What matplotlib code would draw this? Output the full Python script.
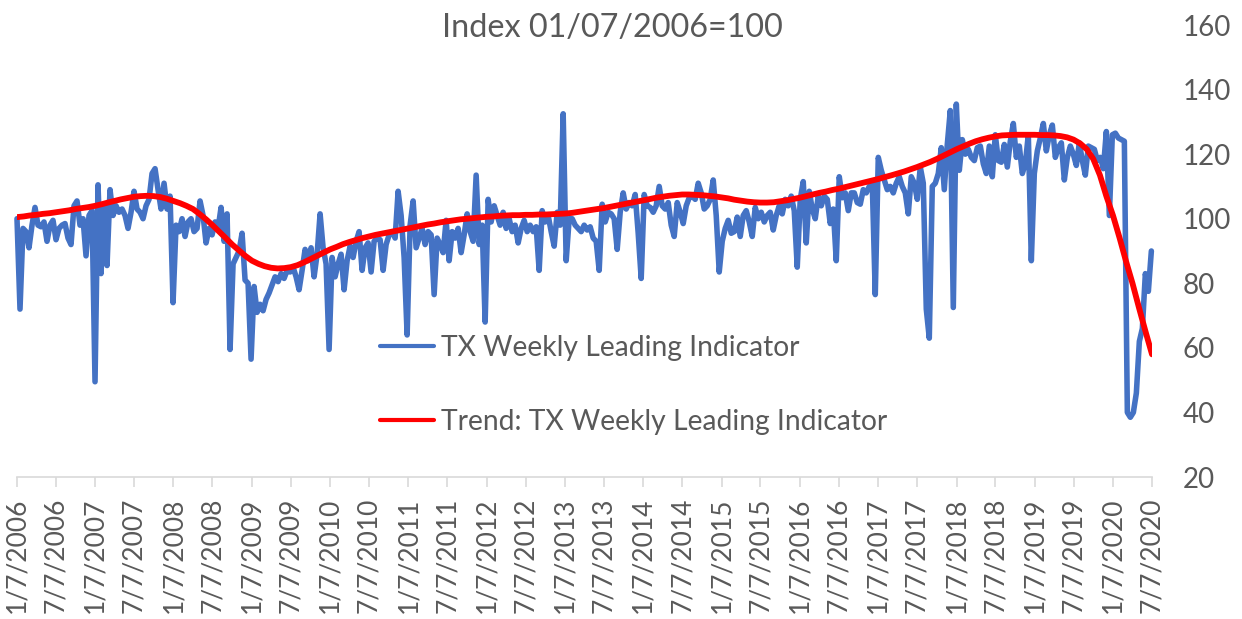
import pandas as pd
import matplotlib
matplotlib.use("Agg")
import matplotlib.pyplot as plt

# TX weekly leading indicator, every other week
tx_weekly = [
    100, 72, 97, 96, 91, 98, 103.5, 98, 97.5, 99, 93, 98, 99.5,
    93.5, 97, 98, 98.5, 94, 92, 104, 105.5, 98, 100, 88.5, 101, 102.5,
    49.5, 110.5, 83, 104, 85.5, 109, 101, 104, 102, 103, 101, 97, 102,
    108.5, 103, 102, 100, 104, 106, 114, 115.5, 109, 103, 111, 103, 107,
    74, 98, 96, 100, 94.5, 99, 100, 96, 97, 105.5, 101, 92.5, 97,
    95, 99, 97, 103.5, 93, 101.5, 59.5, 86, 88, 90, 95.5, 81, 80,
    56.5, 79, 71, 73.5, 71.5, 75, 77, 79.5, 82, 80.5, 83, 81.5, 84,
    83.5, 85, 82, 78, 84, 90.5, 87, 91, 82, 89, 101.5, 91, 86,
    59.5, 88, 82, 86, 89, 78, 87, 91.5, 88, 93, 96, 84, 91,
    92.5, 83.5, 93, 94, 93.5, 84, 92, 95, 96, 94, 108.5, 101, 88,
    64, 98, 105.5, 91, 94, 97, 92, 96, 95, 76.5, 94, 92, 89.5,
    99.5, 87, 96, 94, 97, 89.5, 95, 101.5, 96, 93, 113.5, 92, 98,
    68, 106, 99, 104, 101, 98, 102, 97, 100, 96, 98, 92.5, 97,
    99.5, 96, 98, 96, 97.5, 84, 102.5, 99, 101, 96, 91.5, 102, 98,
    132.5, 87, 100, 100, 98, 97, 96, 98, 96.5, 97.5, 94, 93, 84,
    104.5, 99, 102, 101.5, 100, 90.5, 102, 108, 103, 105, 104, 107.5, 95.5,
    81.5, 107.5, 104, 103.5, 102, 104, 110, 104, 103, 105, 98, 94.5, 105,
    102, 98.5, 104, 106.5, 107, 106, 111, 108, 103, 104, 106, 112, 101,
    83.5, 93, 97, 99.5, 95.5, 96, 100.5, 94.5, 101, 102.5, 99, 94.5, 103.5,
    100, 102, 99, 101, 102, 96.5, 101, 104, 101.5, 106, 104, 107, 102.5,
    85, 106, 111.5, 92.5, 108.5, 103, 100, 107, 104, 107, 106, 98.5, 103,
    87, 113, 106.5, 108, 102.5, 108, 108, 105, 104.5, 109, 108, 110, 111,
    76.5, 119, 115, 112, 109, 110, 108, 111, 113, 110, 108, 101.5, 113,
    111, 106, 116, 111, 72, 63, 110, 111, 114, 122, 109, 123, 133.5,
    72.5, 135.5, 115, 124.5, 120, 121.5, 119, 118, 122, 122.5, 117, 114, 122.5,
    113, 126, 118, 117.5, 123, 116, 124, 129.5, 119, 122.5, 114, 117, 126,
    87, 114, 121, 125, 129.5, 121, 126, 129, 119, 122, 123.5, 112, 119,
    122.5, 120, 116.5, 123.5, 118, 113.5, 122.5, 122, 121.5, 118, 119, 115.5, 127,
    101, 126, 126.5, 125, 124.5, 124, 40, 38.5, 40, 46, 62, 66, 83,
    77.5, 90,
]

# trend line, monthly
trend = [
    100.5, 100.7, 101.0, 101.2, 101.5, 101.7, 102.0, 102.3, 102.6, 103.0, 103.3, 103.6,
    104.0, 104.5, 105.0, 105.5, 106.0, 106.4, 106.8, 107.0, 107.1, 107.0, 106.7, 106.2,
    105.5, 104.8, 104.0, 103.0, 101.5, 99.8, 98.0, 96.0, 94.0, 92.0, 90.2, 88.5,
    87.0, 86.0, 85.3, 84.8, 84.6, 84.7, 85.0, 85.6, 86.5, 87.5, 88.5, 89.5,
    90.5, 91.3, 92.1, 92.8, 93.4, 94.0, 94.5, 95.0, 95.4, 95.8, 96.2, 96.6,
    97.0, 97.4, 97.8, 98.2, 98.5, 98.9, 99.2, 99.5, 99.8, 100.0, 100.2, 100.4,
    100.6, 100.7, 100.9, 101.0, 101.1, 101.1, 101.2, 101.2, 101.3, 101.3, 101.4, 101.5,
    101.6, 101.8, 102.1, 102.4, 102.7, 103.0, 103.3, 103.7, 104.1, 104.5, 104.9, 105.3,
    105.7, 106.1, 106.5, 106.8, 107.1, 107.3, 107.5, 107.5, 107.4, 107.3, 107.1, 106.9,
    106.6, 106.3, 105.9, 105.6, 105.3, 105.1, 105.0, 105.0, 105.1, 105.4, 105.7, 106.1,
    106.5, 107.0, 107.5, 108.0, 108.4, 108.9, 109.3, 109.8, 110.3, 110.8, 111.3, 111.8,
    112.3, 112.9, 113.4, 114.0, 114.6, 115.3, 116.0, 116.8, 117.6, 118.5, 119.5, 120.5,
    121.5, 122.4, 123.2, 124.0, 124.6, 125.1, 125.5, 125.8, 125.9, 126.0, 126.0, 126.0,
    126.0, 125.9, 125.9, 125.8, 125.6, 125.2, 124.5, 123.3, 121.5, 118.5, 113.5, 107.0,
    101.0, 94.0, 87.0, 80.0, 72.5, 65.0, 58.0,
]

tx_dates = pd.date_range("2006-01-07", periods=len(tx_weekly), freq="14D")
trend_dates = pd.date_range("2006-01-07", periods=len(trend), freq=pd.DateOffset(months=1))

tick_dates = pd.date_range("2006-01-07", "2020-07-07", freq=pd.DateOffset(months=6))
tick_labels = [f"{d.month}/{d.day}/{d.year}" for d in tick_dates]

plt.rcParams["font.family"] = ["Lato", "DejaVu Sans"]
grey = "#595959"

fig = plt.figure(figsize=(12.42, 6.19), dpi=100)
ax = fig.add_axes([17 / 1242, 1 - 477 / 619, 1135 / 1242, 452 / 619])

ax.plot(tx_dates, tx_weekly, color="#4472C4", lw=4.0, solid_joinstyle="round",
        solid_capstyle="round", label="TX Weekly Leading Indicator", clip_on=False)
ax.plot(trend_dates, trend, color="#FF0000", lw=4.2, solid_capstyle="round",
        label="Trend: TX Weekly Leading Indicator")

ax.set_xlim(pd.Timestamp("2006-01-07"), pd.Timestamp("2020-07-07"))
ax.set_ylim(20, 160)
ax.set_yticks(range(20, 161, 20))
ax.yaxis.tick_right()
ax.tick_params(axis="y", length=0, pad=22, labelsize=20, labelcolor=grey)

ax.set_xticks(tick_dates)
ax.set_xticklabels(tick_labels, rotation=90, fontsize=19, color=grey)
ax.tick_params(axis="x", length=7, width=1.2, color="#D9D9D9", pad=8)

for side in ["top", "left", "right"]:
    ax.spines[side].set_visible(False)
ax.spines["bottom"].set_color("#D9D9D9")
ax.spines["bottom"].set_linewidth(1.2)

fig.text(612 / 1242, 1 - 28 / 619, "Index 01/07/2006=100", ha="center", va="center",
         fontsize=23.3, color=grey)

leg = ax.legend(loc="center left", bbox_to_anchor=(380 / 1242, 1 - 385 / 619),
                bbox_transform=fig.transFigure, frameon=False, fontsize=20.3,
                handlelength=1.9, handletextpad=0.25, labelspacing=1.7,
                borderpad=0, borderaxespad=0)
for t in leg.get_texts():
    t.set_color(grey)
for h in leg.get_lines():
    h.set_linewidth(3.0)

fig.savefig("out.png", dpi=100)
